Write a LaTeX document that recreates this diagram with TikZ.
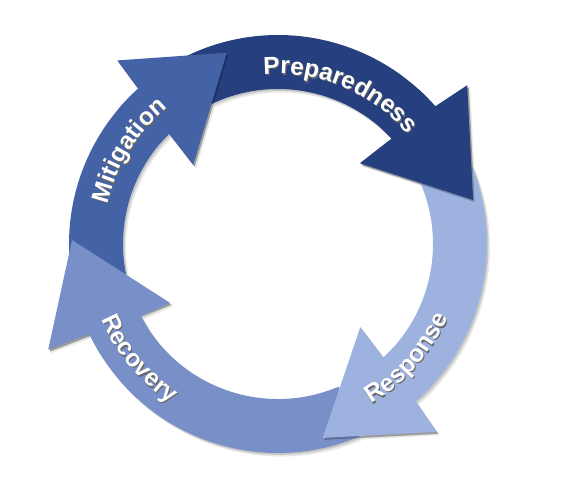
\documentclass[tikz,border=0pt]{standalone}
\usepackage{fontspec}
\setsansfont{Liberation Sans}
\usetikzlibrary{decorations.text}
\definecolor{cMit}{HTML}{4462A6}
\definecolor{cPre}{HTML}{26407F}
\definecolor{cRes}{HTML}{9DB2DF}
\definecolor{cRec}{HTML}{7890C7}
\newcommand\arclbl{\fontsize{24.5pt}{28pt}\selectfont\sffamily\bfseries}
% bands
\newcommand\bandM{(194:209pt) arc[start angle=194,end angle=132,radius=209pt] -- (134.7:155pt) arc[start angle=134.7,end angle=194,radius=155pt] -- cycle}
\newcommand\bandP{(117:209pt) arc[start angle=117,end angle=41.2,radius=209pt] -- (42.9:155pt) arc[start angle=42.9,end angle=117,radius=155pt] -- cycle}
\newcommand\bandS{(27:209pt) arc[start angle=27,end angle=-48.8,radius=209pt] -- (-47.1:155pt) arc[start angle=-47.1,end angle=27,radius=155pt] -- cycle}
\newcommand\bandR{(-67:209pt) arc[start angle=-67,end angle=-154.5,radius=209pt] -- (-152.3:155pt) arc[start angle=-152.3,end angle=-67,radius=155pt] -- cycle}
% heads
\newcommand\headM{(132:209pt) -- (131.2:244pt) -- (105:198pt) -- (137:116pt) -- (134.7:155pt) arc[start angle=134.7,end angle=140,radius=155pt] -- (140:209pt) arc[start angle=140,end angle=132,radius=209pt] -- cycle}
\newcommand\headP{(41.2:209pt) -- (40:247pt) -- (12.7:200pt) -- (44.6:115pt) -- (42.9:155pt) arc[start angle=42.9,end angle=48,radius=155pt] -- (48:209pt) arc[start angle=48,end angle=41.2,radius=209pt] -- cycle}
\newcommand\headS{(-48.8:209pt) -- (-49.8:246pt) -- (-77:199pt) -- (-45.3:117pt) -- (-47.1:155pt) arc[start angle=-47.1,end angle=-42,radius=155pt] -- (-42:209pt) arc[start angle=-42,end angle=-48.8,radius=209pt] -- cycle}
\newcommand\headR{(-154.5:209pt) -- (-155.3:253pt) -- (-181.1:206pt) -- (-151.4:123pt) -- (-152.3:155pt) arc[start angle=-152.3,end angle=-147,radius=155pt] -- (-147:209pt) arc[start angle=-147,end angle=-154.5,radius=209pt] -- cycle}
% triangles for head shadows
\newcommand\triM{(131.2:244pt) -- (105:198pt) -- (137:116pt) -- cycle}
\newcommand\triP{(40:247pt) -- (12.7:200pt) -- (44.6:115pt) -- cycle}
\newcommand\triS{(-49.8:246pt) -- (-77:199pt) -- (-45.3:117pt) -- cycle}
\newcommand\triR{(-155.3:253pt) -- (-181.1:206pt) -- (-151.4:123pt) -- cycle}
\tikzset{
  softshadow/.style={fill=black!9},
  hardshadow/.style={fill=black!22},
  headshadow/.style={fill=black,opacity=0.22},
  lbltext/.style={decorate,decoration={text along path,text align=center,text color=white,text={|\arclbl|#1}}},
  lblshadow/.style={decorate,decoration={text along path,text align=center,text color=black!60,text={|\arclbl|#1}}}
}
\begin{document}
\begin{tikzpicture}
\useasboundingbox (0,0) rectangle (566pt,-488pt);
\begin{scope}[shift={(278pt,-244pt)}]
  % outer shadows
  \begin{scope}[shift={(3pt,-3.5pt)}]
    \fill[softshadow] \bandM; \fill[softshadow] \bandP; \fill[softshadow] \bandS; \fill[softshadow] \bandR;
    \fill[softshadow] \headM; \fill[softshadow] \headP; \fill[softshadow] \headS; \fill[softshadow] \headR;
  \end{scope}
  \begin{scope}[shift={(1.5pt,-1.8pt)}]
    \fill[hardshadow] \bandM; \fill[hardshadow] \bandP; \fill[hardshadow] \bandS; \fill[hardshadow] \bandR;
    \fill[hardshadow] \headM; \fill[hardshadow] \headP; \fill[hardshadow] \headS; \fill[hardshadow] \headR;
  \end{scope}
  % bands
  \fill[cMit] \bandM;
  \fill[cPre] \bandP;
  \fill[cRes] \bandS;
  \fill[cRec] \bandR;
  % head shadows on the following tails
  \begin{scope}[shift={(1.5pt,-2pt)}]
    \fill[headshadow] \triM; \fill[headshadow] \triP; \fill[headshadow] \triS; \fill[headshadow] \triR;
  \end{scope}
  % heads
  \fill[cMit] \headM;
  \fill[cPre] \headP;
  \fill[cRes] \headS;
  \fill[cRec] \headR;
  % label shadows
  \begin{scope}[shift={(1pt,-1.3pt)}]
    \path[lblshadow=Mitigation] (178:175pt) arc[start angle=178,end angle=118,radius=175pt];
    \path[lblshadow=Preparedness] (97.5:170pt) arc[start angle=97.5,end angle=37.5,radius=170pt];
    \path[lblshadow=Response] (-71.5:185pt) arc[start angle=-71.5,end angle=-11.5,radius=185pt];
    \path[lblshadow=Recovery] (189.5:192pt) arc[start angle=189.5,end angle=249.5,radius=192pt];
  \end{scope}
  % labels
  \path[lbltext=Mitigation] (178:175pt) arc[start angle=178,end angle=118,radius=175pt];
  \path[lbltext=Preparedness] (97.5:170pt) arc[start angle=97.5,end angle=37.5,radius=170pt];
  \path[lbltext=Response] (-71.5:185pt) arc[start angle=-71.5,end angle=-11.5,radius=185pt];
  \path[lbltext=Recovery] (189.5:192pt) arc[start angle=189.5,end angle=249.5,radius=192pt];
\end{scope}
\end{tikzpicture}
\end{document}
